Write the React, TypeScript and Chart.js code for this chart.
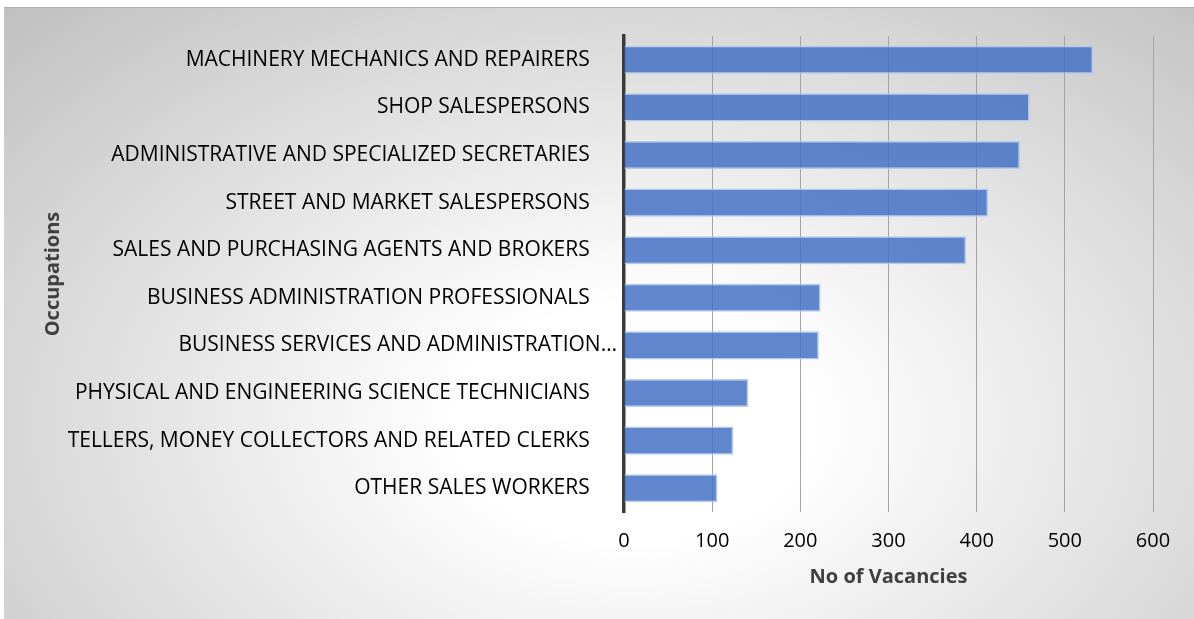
import React, { useEffect, useRef } from "react";
import { Chart, registerables } from "chart.js";

Chart.register(...registerables);

const categories = [
  "MACHINERY MECHANICS AND REPAIRERS",
  "SHOP SALESPERSONS",
  "ADMINISTRATIVE AND SPECIALIZED SECRETARIES",
  "STREET AND MARKET SALESPERSONS",
  "SALES AND PURCHASING AGENTS AND BROKERS",
  "BUSINESS ADMINISTRATION PROFESSIONALS",
  "BUSINESS SERVICES AND ADMINISTRATION…",
  "PHYSICAL AND ENGINEERING SCIENCE TECHNICIANS",
  "TELLERS, MONEY COLLECTORS AND RELATED CLERKS",
  "OTHER SALES WORKERS",
];

const vacancies = [532, 460, 449, 413, 388, 223, 221, 141, 124, 106];

const xMin = 0;
const xMax = 600;
const xStep = 100;

const xTitle = "No of Vacancies";
const yTitle = "Occupations";

const FONT = '"Open Sans", "Noto Sans", sans-serif';

export default function App() {
  const canvasRef = useRef<HTMLCanvasElement | null>(null);

  useEffect(() => {
    const canvas = canvasRef.current;
    if (!canvas) return;
    const chart = new Chart(canvas, {
      type: "bar",
      data: {
        labels: categories,
        datasets: [
          {
            data: vacancies,
            backgroundColor: "rgba(68,114,196,0.85)",
            borderColor: "rgba(175,198,236,0.95)",
            borderWidth: 1.5,
            barPercentage: 0.59,
            categoryPercentage: 1,
          },
        ],
      },
      options: {
        indexAxis: "y",
        responsive: false,
        animation: false,
        layout: { padding: { top: 28, right: 41, bottom: 27, left: 0 } },
        plugins: {
          legend: { display: false },
          tooltip: { enabled: false },
        },
        scales: {
          x: {
            min: xMin,
            max: xMax,
            ticks: {
              stepSize: xStep,
              font: { family: FONT, size: 20 },
              color: "#000000",
              padding: 17,
            },
            grid: {
              color: (ctx: any) =>
                ctx.tick && ctx.tick.value === 0 ? "rgba(0,0,0,0)" : "#a3a3a3",
              lineWidth: 1,
              drawTicks: false,
            },
            border: { display: false },
            title: {
              display: true,
              text: xTitle,
              font: { family: FONT, size: 20, weight: "bold" },
              color: "#404040",
              padding: { top: 0, bottom: 3 },
            },
            afterFit: (s: any) => {
              s.height = 80;
            },
          },
          y: {
            ticks: {
              font: { family: FONT, size: 21 },
              color: "#000000",
              padding: 7,
              autoSkip: false,
              callback: (_v: any, i: number) => {
                const l = categories[i];
                return l.endsWith("…") ? l : l + "     ";
              },
            },
            grid: { display: false, drawTicks: false },
            border: { display: true, color: "#3a3a3a", width: 3.5 },
            title: {
              display: true,
              text: yTitle,
              font: { family: FONT, size: 20, weight: "bold" },
              color: "#404040",
              padding: { top: 37, bottom: 0 },
            },
            afterFit: (s: any) => {
              s.width = 620;
            },
          },
        },
      },
    } as any);
    return () => chart.destroy();
  }, []);

  return (
    <div
      style={{
        position: "absolute",
        left: 0,
        top: 0,
        width: 1194,
        height: 619,
        background: "#ffffff",
        overflow: "hidden",
      }}
    >
      <div
        style={{
          position: "absolute",
          left: 4,
          top: 7,
          width: 1190,
          height: 612,
          boxSizing: "border-box",
          borderTop: "1px solid #b3b3b3",
          background:
            "radial-gradient(ellipse farthest-corner at 53% 68%, #ffffff 0%, #ffffff 20%, #c0c0c0 100%)",
        }}
      >
        <canvas
          ref={canvasRef}
          width={1190}
          height={611}
          style={{ display: "block", width: 1190, height: 611 }}
        />
      </div>
    </div>
  );
}
